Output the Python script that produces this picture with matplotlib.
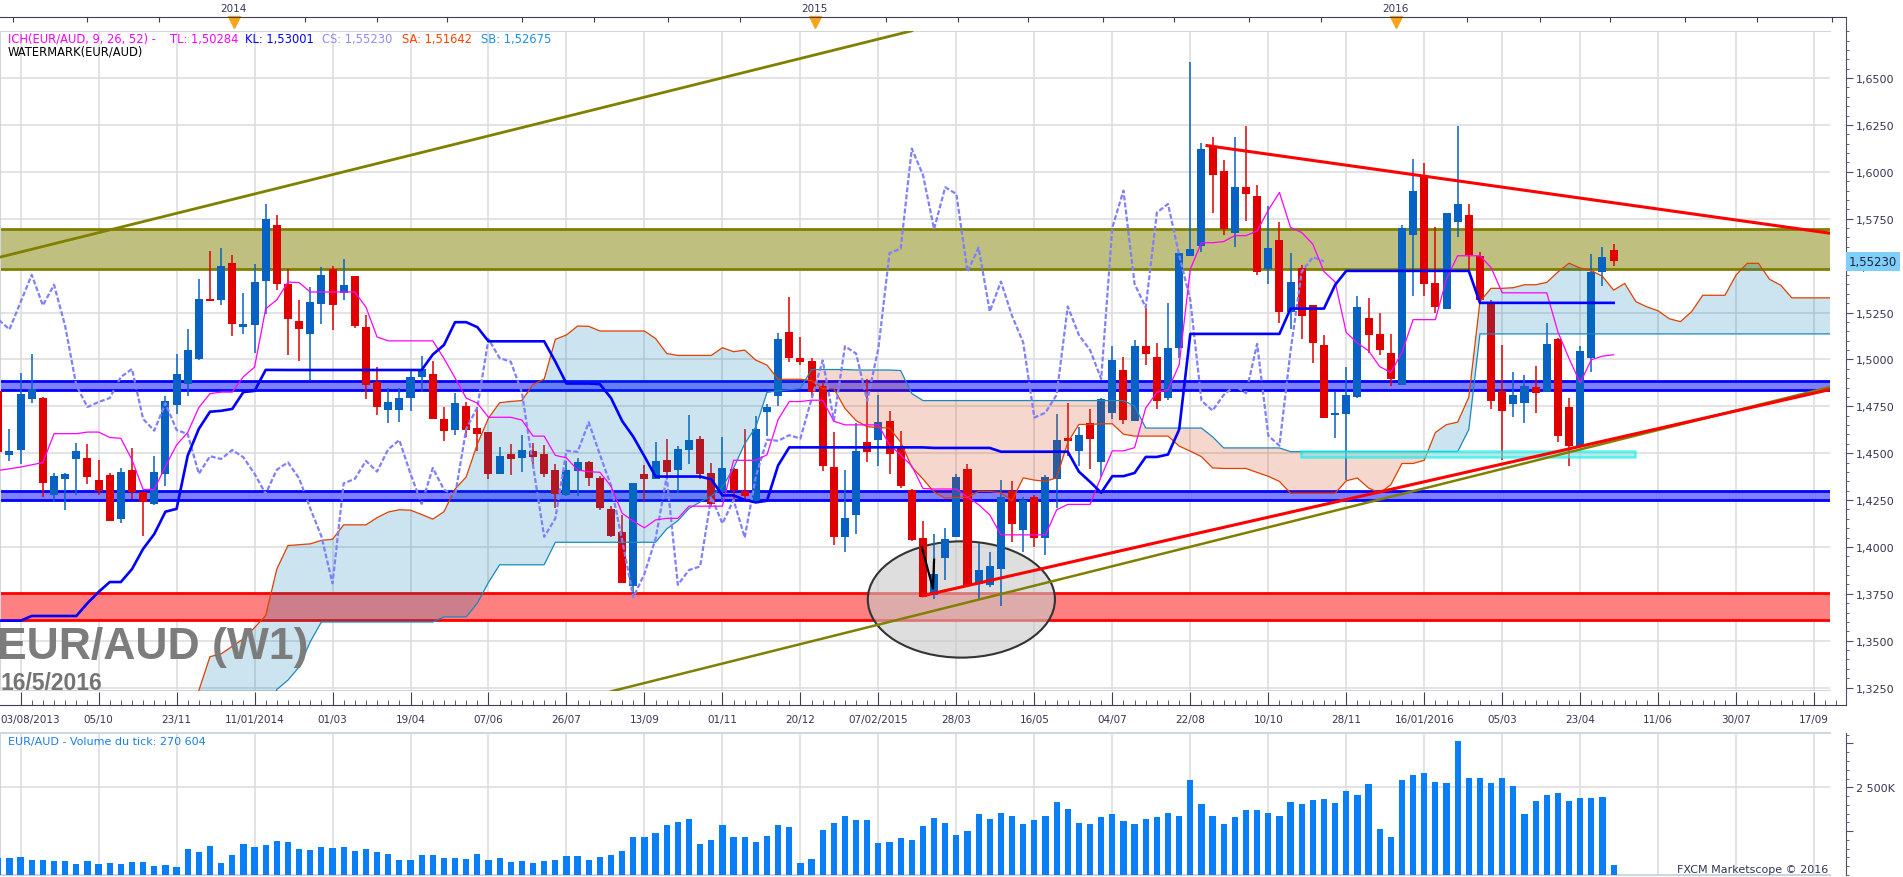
import numpy as np
import pandas as pd
import matplotlib
matplotlib.use("Agg")
import matplotlib.pyplot as plt
from matplotlib.patches import Ellipse, Rectangle
import matplotlib.transforms as mtransforms

W, H = 1903, 878

# ---- weekly EUR/AUD candles, first bar is week -2 (week 0 = tick "03/08/2013") ----
first_week = -2
opens = [1.4830, 1.4488, 1.4515, 1.4787, 1.4796, 1.4275, 1.4360, 1.4467, 1.4476, 1.4359,
         1.4382, 1.4147, 1.4412, 1.4293, 1.4231, 1.4387, 1.4755, 1.4870, 1.5004, 1.5324,
         1.5315, 1.5515, 1.5172, 1.5181, 1.5416, 1.5718, 1.5402, 1.5204, 1.5133, 1.5293,
         1.5480, 1.5354, 1.5444, 1.5172, 1.4879, 1.4728, 1.4728, 1.4794, 1.4908, 1.4922,
         1.4682, 1.4624, 1.4753, 1.4634, 1.4615, 1.4390, 1.4496, 1.4474, 1.4513, 1.4496,
         1.4411, 1.4279, 1.4407, 1.4451, 1.4366, 1.4202, 1.4078, 1.3794, 1.4390, 1.4363,
         1.4464, 1.4411, 1.4517, 1.4576, 1.4393, 1.4291, 1.4416, 1.4297, 1.4238, 1.4721,
         1.4803, 1.5144, 1.5007, 1.4989, 1.4858, 1.4428, 1.4054, 1.4168, 1.4562, 1.4572,
         1.4674, 1.4527, 1.4302, 1.4050, 1.3745, 1.3942, 1.4054, 1.4418, 1.3804, 1.3798,
         1.3882, 1.4296, 1.4089, 1.4267, 1.4050, 1.4365, 1.4582, 1.4513, 1.4661, 1.4454,
         1.4714, 1.4946, 1.4670, 1.5074, 1.5011, 1.4795, 1.5059, 1.5553, 1.5606, 1.6134,
         1.6006, 1.5676, 1.5918, 1.5871, 1.5481, 1.5637, 1.5255, 1.5486, 1.5290, 1.5077,
         1.4702, 1.4708, 1.4798, 1.5219, 1.5136, 1.5033, 1.4864, 1.5664, 1.5978, 1.5409,
         1.5269, 1.5735, 1.5770, 1.5552, 1.5308, 1.4832, 1.4761, 1.4766, 1.4852, 1.4825,
         1.5109, 1.4745, 1.4540, 1.5010, 1.5468, 1.5584]
highs = [1.4870, 1.4627, 1.4929, 1.5030, 1.4801, 1.4396, 1.4396, 1.4556, 1.4550, 1.4465,
         1.4396, 1.4420, 1.4529, 1.4293, 1.4483, 1.4803, 1.5030, 1.5164, 1.5430, 1.5578,
         1.5594, 1.5558, 1.5354, 1.5510, 1.5830, 1.5771, 1.5483, 1.5318, 1.5386, 1.5492,
         1.5498, 1.5537, 1.5444, 1.5235, 1.4959, 1.4847, 1.4847, 1.4941, 1.5020, 1.4990,
         1.4748, 1.4819, 1.4771, 1.4744, 1.4615, 1.4531, 1.4549, 1.4597, 1.4554, 1.4544,
         1.4443, 1.4460, 1.4473, 1.4460, 1.4380, 1.4217, 1.4171, 1.4339, 1.4437, 1.4557,
         1.4574, 1.4539, 1.4704, 1.4591, 1.4446, 1.4585, 1.4420, 1.4629, 1.4700, 1.4762,
         1.5139, 1.5331, 1.5118, 1.5010, 1.4877, 1.4611, 1.4408, 1.4661, 1.4893, 1.4808,
         1.4726, 1.4617, 1.4310, 1.4139, 1.4070, 1.4099, 1.4389, 1.4444, 1.4020, 1.3975,
         1.4355, 1.4350, 1.4267, 1.4276, 1.4385, 1.4710, 1.4769, 1.4641, 1.4733, 1.4795,
         1.5070, 1.5015, 1.5104, 1.5275, 1.5090, 1.5301, 1.5567, 1.6587, 1.6154, 1.6187,
         1.6065, 1.6188, 1.6246, 1.5930, 1.5818, 1.5735, 1.5566, 1.5504, 1.5290, 1.5130,
         1.4828, 1.4962, 1.5338, 1.5326, 1.5246, 1.5136, 1.5717, 1.6067, 1.6049, 1.5704,
         1.5783, 1.6246, 1.5829, 1.5575, 1.5317, 1.5077, 1.4935, 1.4917, 1.4965, 1.5196,
         1.5113, 1.4793, 1.5072, 1.5562, 1.5601, 1.5616]
lows = [1.4470, 1.4456, 1.4444, 1.4767, 1.4264, 1.4240, 1.4195, 1.4275, 1.4337, 1.4275,
        1.4138, 1.4128, 1.4257, 1.4057, 1.4222, 1.4323, 1.4710, 1.4805, 1.4995, 1.5310,
        1.5292, 1.5123, 1.5133, 1.5036, 1.5244, 1.5368, 1.5025, 1.4989, 1.4889, 1.5187,
        1.5155, 1.5315, 1.5167, 1.4787, 1.4702, 1.4661, 1.4666, 1.4723, 1.4828, 1.4682,
        1.4567, 1.4597, 1.4584, 1.4514, 1.4363, 1.4390, 1.4386, 1.4402, 1.4434, 1.4371,
        1.4206, 1.4274, 1.4274, 1.4323, 1.4199, 1.4051, 1.3806, 1.3731, 1.4244, 1.4363,
        1.4361, 1.4289, 1.4442, 1.4363, 1.4220, 1.4247, 1.4244, 1.4247, 1.4234, 1.4593,
        1.4753, 1.4985, 1.4972, 1.4806, 1.4404, 1.4010, 1.3971, 1.4070, 1.4454, 1.4434,
        1.4389, 1.4316, 1.4030, 1.3731, 1.3725, 1.3823, 1.4054, 1.3798, 1.3725, 1.3784,
        1.3685, 1.4026, 1.3971, 1.4001, 1.3955, 1.4207, 1.4483, 1.4434, 1.4414, 1.4375,
        1.4680, 1.4657, 1.4670, 1.4972, 1.4733, 1.4783, 1.5005, 1.5553, 1.5571, 1.5783,
        1.5665, 1.5601, 1.5740, 1.5450, 1.5401, 1.5193, 1.5161, 1.5107, 1.4983, 1.4690,
        1.4580, 1.4357, 1.4793, 1.5033, 1.5024, 1.4859, 1.4864, 1.5338, 1.5338, 1.5246,
        1.5269, 1.5651, 1.5468, 1.5308, 1.4734, 1.4464, 1.4695, 1.4663, 1.4713, 1.4825,
        1.4562, 1.4434, 1.4540, 1.4935, 1.5393, 1.5500]
closes = [1.4506, 1.4511, 1.4817, 1.4844, 1.4343, 1.4378, 1.4390, 1.4513, 1.4371, 1.4296,
          1.4138, 1.4401, 1.4293, 1.4240, 1.4400, 1.4778, 1.4924, 1.5050, 1.5324, 1.5310,
          1.5498, 1.5187, 1.5190, 1.5412, 1.5750, 1.5400, 1.5213, 1.5160, 1.5306, 1.5451,
          1.5288, 1.5398, 1.5178, 1.4861, 1.4746, 1.4773, 1.4794, 1.4906, 1.4949, 1.4682,
          1.4620, 1.4767, 1.4624, 1.4602, 1.4390, 1.4484, 1.4469, 1.4517, 1.4478, 1.4390,
          1.4283, 1.4412, 1.4451, 1.4366, 1.4206, 1.4057, 1.3806, 1.4339, 1.4363, 1.4459,
          1.4402, 1.4521, 1.4570, 1.4390, 1.4230, 1.4421, 1.4306, 1.4274, 1.4629, 1.4744,
          1.5109, 1.5007, 1.4988, 1.4824, 1.4434, 1.4054, 1.4152, 1.4513, 1.4507, 1.4665,
          1.4493, 1.4326, 1.4036, 1.3731, 1.3857, 1.4044, 1.4375, 1.3798, 1.3877, 1.3896,
          1.4267, 1.4125, 1.4251, 1.4050, 1.4375, 1.4572, 1.4566, 1.4596, 1.4578, 1.4789,
          1.4995, 1.4676, 1.5070, 1.5031, 1.4779, 1.5059, 1.5567, 1.5590, 1.6124, 1.5984,
          1.5695, 1.5918, 1.5882, 1.5468, 1.5596, 1.5255, 1.5415, 1.5232, 1.5090, 1.4690,
          1.4716, 1.4811, 1.5282, 1.5130, 1.5050, 1.4896, 1.5703, 1.5900, 1.5402, 1.5278,
          1.5783, 1.5829, 1.5557, 1.5317, 1.4780, 1.4727, 1.4811, 1.4859, 1.4820, 1.5083,
          1.4594, 1.4540, 1.5045, 1.5468, 1.5545, 1.5523]
# tick volume in thousands
volume_k = [477, 477, 506, 420, 420, 391, 391, 305, 391, 305, 334, 305, 363, 363, 248, 277,
            219, 735, 649, 820, 334, 563, 878, 792, 849, 964, 935, 735, 706, 792, 763, 792,
            677, 735, 649, 591, 420, 420, 563, 563, 477, 477, 448, 591, 420, 477, 363, 391,
            334, 391, 420, 534, 534, 420, 506, 563, 677, 1078, 1078, 1193, 1421, 1507, 1593,
            878, 992, 1421, 1078, 1078, 935, 1107, 1421, 1364, 334, 448, 1278, 1479, 1679,
            1565, 1565, 906, 935, 1049, 992, 1393, 1622, 1479, 1135, 1250, 1736, 1593, 1765,
            1679, 1450, 1565, 1679, 2080, 1879, 1479, 1450, 1650, 1736, 1536, 1450, 1593,
            1650, 1765, 1679, 2709, 2022, 1679, 1450, 1650, 1851, 1851, 1765, 1679, 2080,
            2022, 2137, 2166, 2051, 2395, 2280, 2595, 1307, 1078, 2709, 2852, 2910, 2652,
            2624, 3826, 2767, 2767, 2624, 2767, 2538, 1736, 2108, 2280, 2337, 2108, 2194,
            2194, 2223, 271]

# indicator values before enough history exists
tenkan_head = [1.4408, 1.4417, 1.4426, 1.4438, 1.4450, 1.4604, 1.4604, 1.4604]
kijun_head = [1.3607, 1.3607, 1.3607, 1.3632, 1.3632, 1.3632, 1.3632, 1.3632, 1.3700,
              1.3760, 1.3813, 1.3813, 1.3882, 1.3990, 1.4069, 1.4188, 1.4203, 1.4487,
              1.4630, 1.4721, 1.4726, 1.4736, 1.4826, 1.4832, 1.4944]
senkou_a_head = [1.300, 1.300, 1.300, 1.300, 1.300, 1.300, 1.300, 1.300, 1.300, 1.300,
                 1.300, 1.300, 1.300, 1.300, 1.300, 1.300, 1.300, 1.300, 1.3235, 1.3415,
                 1.3430, 1.3470, 1.3510, 1.3570, 1.3634, 1.3882]
senkou_b_head = [1.300, 1.300, 1.300, 1.300, 1.300, 1.300, 1.300, 1.300, 1.300, 1.300,
                 1.300, 1.300, 1.300, 1.300, 1.300, 1.300, 1.300, 1.300, 1.300, 1.300,
                 1.300, 1.300, 1.300, 1.300, 1.300, 1.3240, 1.3290, 1.3360, 1.3494, 1.3600,
                 1.3600, 1.3600, 1.3600, 1.3600, 1.3600, 1.3600, 1.3600, 1.3600, 1.3600,
                 1.3600, 1.3627, 1.3627, 1.3627, 1.3700, 1.3811, 1.3905, 1.3905, 1.3905,
                 1.3905, 1.3905, 1.4025, 1.4025, 1.4025, 1.4025, 1.4025, 1.4025, 1.4025,
                 1.4025, 1.4025, 1.4025, 1.4096, 1.4140, 1.4205, 1.4240, 1.4270, 1.4320,
                 1.4420, 1.4550, 1.4640, 1.4824, 1.4833, 1.4838, 1.4845, 1.4946, 1.4946,
                 1.4946, 1.4946]

# drawn zones and trend lines (price levels, week positions)
zone_olive = (1.5482, 1.5695)
zone_blue_hi = (1.4835, 1.4887)
zone_blue_lo = (1.4248, 1.4296)
zone_red = (1.3611, 1.3753)
cyan_box = (114.9, 144.9, 1.4477, 1.4509)
olive_top_line = [(-2.0, 1.5543), (80.0, 1.6752)]
olive_low_line = [(53.0, 1.3230), (162.4, 1.4852)]
red_low_line = [(81.0, 1.3740), (162.4, 1.4839)]
red_high_line = [(106.5, 1.6140), (162.4, 1.5673)]
hand_stroke = [(80.9, 1.3999), (81.9, 1.3778), (82.0, 1.3932)]
circle_mark = (84.45, 1.3720, 16.8, 0.0620)

date_labels = ["03/08/2013", "05/10", "23/11", "11/01/2014", "01/03", "19/04", "07/06",
               "26/07", "13/09", "01/11", "20/12", "07/02/2015", "28/03", "16/05", "04/07",
               "22/08", "10/10", "28/11", "16/01/2016", "05/03", "23/04", "11/06", "30/07",
               "17/09"]
year_labels = ["2014", "2015", "2016"]
price_ticks = [1.325, 1.350, 1.375, 1.400, 1.425, 1.450, 1.475, 1.500, 1.525, 1.550,
               1.575, 1.600, 1.625, 1.650]

# ---- ichimoku lines from the candles ----
weeks = np.arange(first_week, first_week + len(closes))
hi = np.array(highs)
lo = np.array(lows)
n = len(weeks)

tenkan = np.array(tenkan_head + [0.0] * (n - len(tenkan_head)))
for i in range(len(tenkan_head), n):
    tenkan[i] = (hi[i - 8:i + 1].max() + lo[i - 8:i + 1].min()) / 2
kijun = np.array(kijun_head + [0.0] * (n - len(kijun_head)))
for i in range(len(kijun_head), n):
    kijun[i] = (hi[i - 25:i + 1].max() + lo[i - 25:i + 1].min()) / 2
span_b = [(hi[i - 51:i + 1].max() + lo[i - 51:i + 1].min()) / 2 for i in range(51, n)]

cloud_x = np.arange(first_week, weeks[-1] + 27)
senkou_a = np.concatenate([senkou_a_head, (tenkan + kijun) / 2])
senkou_b = np.concatenate([senkou_b_head, span_b])


def fx(px):
    return px / W


def fy(py):
    return 1 - py / H


X0 = 20.6        # pixel of week 0
PXW = 11.14      # pixels per week
xmin = -X0 / PXW
xmax_plot = (1830 - X0) / PXW
xmax_axis = (1846 - X0) / PXW

BLUE = "#0762c4"
RED = "#e00000"
GRID = "#dedede"
FRAME = "#cfd6de"
TXT = "#353555"

fig = plt.figure(figsize=(W / 100, H / 100), dpi=100)
fig.patch.set_facecolor("white")

# ---- price panel ----
ax = fig.add_axes([0, fy(692), fx(1830), 660 / H])
ax.set_xlim(xmin, xmax_plot)
ax.set_ylim(1.3232, 1.6751)
ax.set_axisbelow(True)
ax.set_xticks(np.arange(0, 162, 7))
ax.set_xticklabels([])
ax.set_yticks(price_ticks)
ax.set_yticklabels([f"{v:.4f}".replace(".", ",") for v in price_ticks])
ax.set_yticks(np.arange(1.325, 1.675, 0.005), minor=True)
ax.grid(True, which="major", color=GRID, lw=1.2)
ax.yaxis.tick_right()
ax.tick_params(axis="x", length=0)
ax.tick_params(axis="y", which="major", length=5, color="#505060", labelsize=8,
               labelcolor=TXT, pad=2)
ax.tick_params(axis="y", which="minor", length=2.5, color="#505060")
for s in ["top", "left", "bottom"]:
    ax.spines[s].set_color(FRAME)
    ax.spines[s].set_linewidth(1.5)
ax.spines["right"].set_position(("outward", 11.5))
ax.spines["right"].set_color("#505060")

# horizontal zones
for (lo_p, hi_p), fill, edge in [(zone_olive, "#bfbf80", "#808000"),
                                 (zone_blue_hi, "#8080ff", "#0000ff"),
                                 (zone_blue_lo, "#8080ff", "#0000ff"),
                                 (zone_red, "#ff8080", "#ff0000")]:
    ax.axhspan(lo_p, hi_p, color=fill, lw=0, zorder=1)
    ax.axhline(lo_p, color=edge, lw=2.0, zorder=1.2)
    ax.axhline(hi_p, color=edge, lw=2.0, zorder=1.2)

cx, cy, cw, ch = circle_mark
ax.add_patch(Ellipse((cx, cy), cw, ch, facecolor="#c8c8c8", alpha=0.6, edgecolor="none",
                     zorder=1.5))
ax.add_patch(Ellipse((cx, cy), cw, ch, facecolor="none", edgecolor="#333333", lw=1.5,
                     zorder=1.6))

# candles
o = np.array(opens)
c = np.array(closes)
col = np.where(c >= o, BLUE, RED)
ax.vlines(weeks, lo, hi, colors=col, lw=1.1, zorder=2.5)
body_lo = np.minimum(o, c)
body_h = np.maximum(np.abs(c - o), 0.0004)
ax.bar(weeks, body_h, bottom=body_lo, width=0.72, color=col, lw=0, zorder=3)

# cloud
ax.fill_between(cloud_x, senkou_a, senkou_b, where=senkou_a >= senkou_b, interpolate=True,
                color="#0078b4", alpha=0.2, lw=0, zorder=4)
ax.fill_between(cloud_x, senkou_a, senkou_b, where=senkou_a < senkou_b, interpolate=True,
                color="#cd3705", alpha=0.2, lw=0, zorder=4)
ax.plot(cloud_x, senkou_a, color="#e04000", lw=0.9, zorder=5)
ax.plot(cloud_x, senkou_b, color="#1a88c0", lw=0.9, zorder=5)
ax.plot(weeks - 26, closes, color="#8080ff", lw=1.6, dashes=(2.2, 1.0), zorder=5)
ax.plot(weeks, tenkan, color="#ff00ff", lw=0.9, zorder=5.2)
ax.plot(weeks, kijun, color="#0000ff", lw=1.9, zorder=5.3)

bx0, bx1, by0, by1 = cyan_box
ax.add_patch(Rectangle((bx0, by0), bx1 - bx0, by1 - by0, facecolor="#7fe0da", alpha=0.6,
                       edgecolor="#00f0f0", lw=1.8, zorder=5.5))

for pts, color, lw in [(olive_top_line, "#808000", 2.0), (olive_low_line, "#808000", 1.8),
                       (red_low_line, "#ff0000", 2.2), (red_high_line, "#ff0000", 2.2)]:
    ax.plot([p[0] for p in pts], [p[1] for p in pts], color=color, lw=lw, zorder=6)
ax.plot([p[0] for p in hand_stroke], [p[1] for p in hand_stroke], color="black", lw=1.6,
        zorder=6)

# last price tag
tag = mtransforms.blended_transform_factory(ax.transAxes, ax.transData)
ax.text(1.0101, closes[-1], f"{closes[-1]:.5f}".replace(".", ","), transform=tag,
        fontsize=8.5, color="#202040", va="center", ha="left", clip_on=False, zorder=10,
        bbox=dict(boxstyle="square,pad=0.25", facecolor="#7fd0f8", edgecolor="none"))

# ---- date axis under the price panel ----
axb = fig.add_axes([0, fy(706), fx(1846), 14 / H])
axb.set_xlim(xmin, xmax_axis)
axb.set_ylim(0, 1)
axb.set_yticks([])
axb.set_xticks(np.arange(0, 162, 7))
axb.set_xticklabels([])
axb.set_xticks(np.arange(0, 164, 1), minor=True)
axb.tick_params(axis="x", which="major", direction="in", length=9.5, color="#404050")
axb.tick_params(axis="x", which="minor", direction="in", length=3.8, color="#404050")
for s in ["top", "left"]:
    axb.spines[s].set_visible(False)
axb.spines["bottom"].set_color("#404050")
axb.spines["right"].set_color("#505060")
for k, lab in enumerate(date_labels):
    if k == 0:
        axb.text(xmin + 0.05, -1.0, lab, fontsize=7.5, color=TXT, ha="left", va="center")
    else:
        axb.text(7 * k, -1.0, lab, fontsize=7.5, color=TXT, ha="center", va="center")

# ---- time axis above ----
axt = fig.add_axes([0, fy(32), fx(1846), 14 / H])
axt.set_xlim(xmin, xmax_axis)
axt.set_ylim(0, 1)
axt.set_yticks([])
ref_day = pd.Timestamp("2013-08-20")
top_ticks = []
year_pos = []
for yr in [2013, 2014, 2015, 2016]:
    for m, d in [(1, 1), (2, 15), (4, 1), (5, 15), (7, 1), (8, 15), (10, 1), (11, 15)]:
        p = (pd.Timestamp(yr, m, d) - ref_day).days / 7
        if xmin <= p <= xmax_axis:
            top_ticks.append(p)
            if m == 1:
                year_pos.append(p)
axt.set_xticks(top_ticks)
axt.set_xticklabels([])
axt.xaxis.tick_top()
axt.tick_params(axis="x", direction="in", length=3.5, color="#404050")
for s in ["bottom", "left"]:
    axt.spines[s].set_visible(False)
axt.spines["top"].set_color("#404050")
axt.spines["right"].set_color("#505060")
axt.plot(year_pos, [0.62] * len(year_pos), ls="none", marker="v", ms=8, color="#f8a51c",
         clip_on=False)
for p, lab in zip(year_pos, year_labels):
    axt.text(p, 1.62, lab, fontsize=7.5, color=TXT, ha="center", va="center")

# ---- volume panel ----
axv = fig.add_axes([0, fy(876), fx(1830), 142 / H])
axv.set_xlim(xmin, xmax_plot)
axv.set_ylim(0, 4048)
axv.set_axisbelow(True)
axv.bar(weeks, volume_k, width=0.56, color="#0a7ef5", lw=0, zorder=3)
axv.set_xticks(np.arange(0, 162, 7))
axv.set_xticklabels([])
axv.tick_params(axis="x", length=0)
axv.yaxis.tick_right()
axv.set_yticks([1250, 2500, 3750])
axv.set_yticklabels(["", "2 500K", ""])
axv.set_yticks(np.arange(0, 4048, 250), minor=True)
axv.tick_params(axis="y", which="major", length=5, color="#505060", labelsize=8,
                labelcolor=TXT, pad=2)
axv.tick_params(axis="y", which="minor", length=2.5, color="#505060")
axv.grid(True, axis="x", color=GRID, lw=1.2)
axv.axhline(2500, color=GRID, lw=1.2, zorder=0)
for s in ["top", "left", "bottom"]:
    axv.spines[s].set_color(FRAME)
    axv.spines[s].set_linewidth(1.5)
axv.spines["right"].set_position(("outward", 11.5))
axv.spines["right"].set_color("#505060")

fig.text(fx(8), fy(742), "EUR/AUD - Volume du tick: 270 604", fontsize=8,
         color="#1a7ee6", va="center")
fig.text(fx(1828), fy(870), "FXCM Marketscope © 2016", fontsize=8, color=TXT,
         ha="right", va="center")

# ---- legend lines ----
legend_parts = [("ICH(EUR/AUD, 9, 26, 52) -", 8, "#ff00ff"),
                ("TL: 1,50284", 170, "#ff00ff"),
                ("KL: 1,53001", 245, "#0000ff"),
                ("CS: 1,55230", 322, "#8c8cff"),
                ("SA: 1,51642", 402, "#ff4000"),
                ("SB: 1,52675", 481, "#1e90e0")]
for txt, px, color in legend_parts:
    fig.text(fx(px), fy(39), txt, fontsize=8.3, color=color, va="center")
fig.text(fx(8), fy(52), "WATERMARK(EUR/AUD)", fontsize=8.3, color="black", va="center")

# ---- watermark ----
fig.text(fx(-3), fy(648), "EUR/AUD (W1)", fontsize=32, fontweight="bold", color="#7c7c7c",
         va="center", family="Liberation Sans")
fig.text(fx(1), fy(684), "16/5/2016", fontsize=16.5, fontweight="bold", color="#747474",
         va="center", family="Liberation Sans")

fig.savefig("out.png", dpi=100)
